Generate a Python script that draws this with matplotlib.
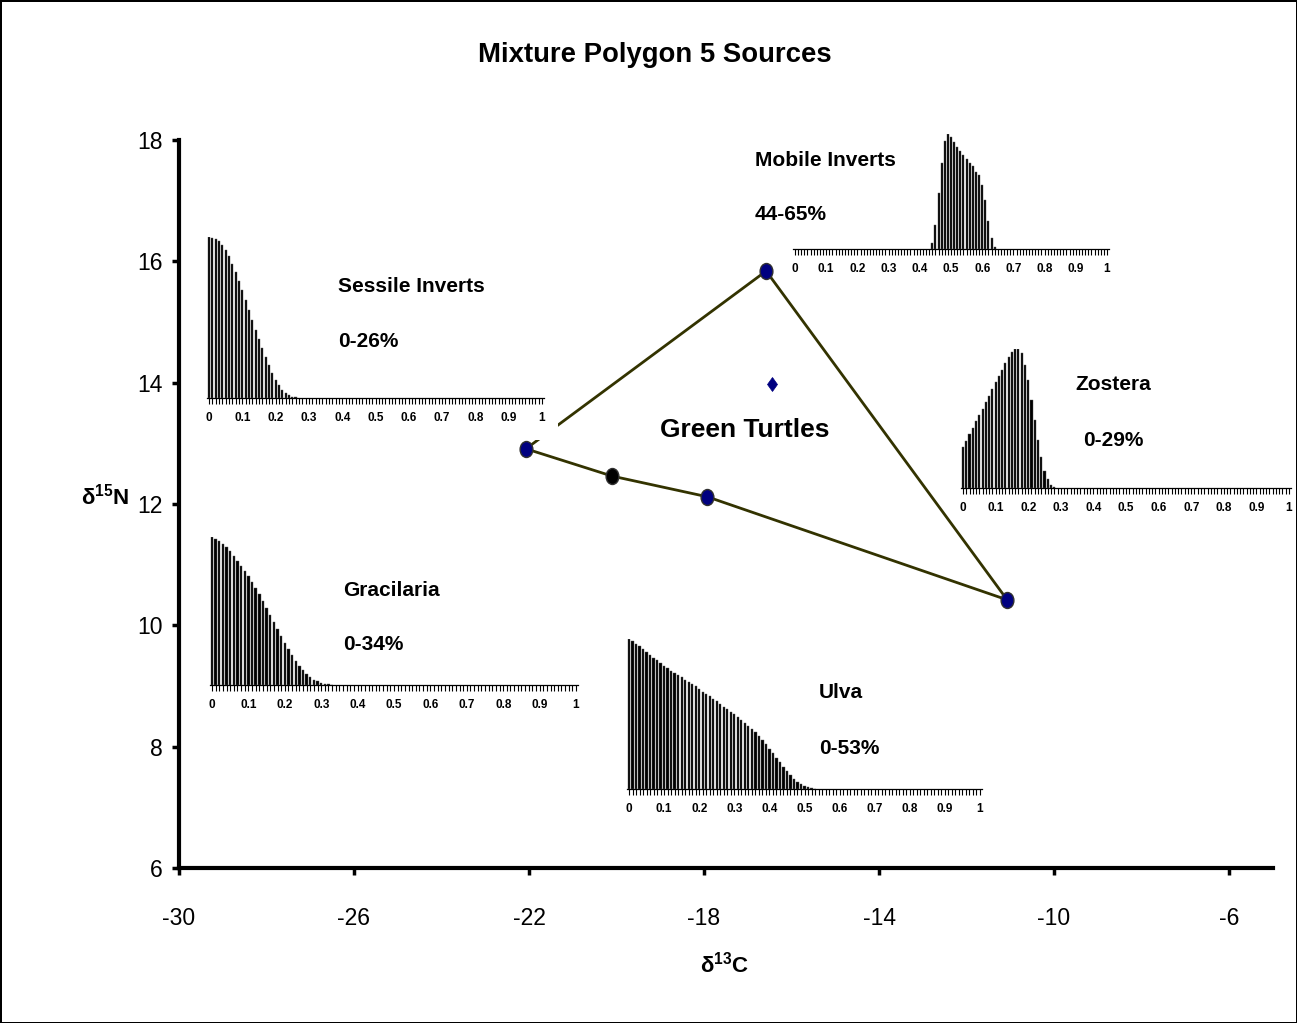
import matplotlib
matplotlib.use("Agg")
import matplotlib.pyplot as plt
from matplotlib import font_manager
from matplotlib.patches import Rectangle
from matplotlib.markers import MarkerStyle
from matplotlib.transforms import Affine2D
import numpy as np

# ---------------- data ----------------
title = "Mixture Polygon 5 Sources"
x_label = "δ$^{13}$C"
y_label = "δ$^{15}$N"
x_ticks = [-30, -26, -22, -18, -14, -10, -6]
y_ticks = [6, 8, 10, 12, 14, 16, 18]

source_names = ["Sessile Inverts", "Mobile Inverts", "Zostera", "Ulva", "Gracilaria"]
source_d13C = [-22.07, -16.58, -11.07, -17.93, -20.10]
source_d15N = [12.91, 15.84, 10.42, 12.12, 12.46]
source_ranges = ["0-26%", "44-65%", "0-29%", "0-53%", "0-34%"]
polygon_order = [0, 1, 2, 3, 4, 0]

consumer_name = "Green Turtles"
consumer_d13C = [-16.45]
consumer_d15N = [13.98]

hist_ticks = [0, 0.1, 0.2, 0.3, 0.4, 0.5, 0.6, 0.7, 0.8, 0.9, 1]
hist_tick_labels = ["0", "0.1", "0.2", "0.3", "0.4", "0.5", "0.6", "0.7", "0.8", "0.9", "1"]
bin_width = 0.01

sessile_start = 0
sessile_hist = [1.00, 0.995, 0.99, 0.975, 0.948, 0.917, 0.88, 0.834, 0.783, 0.725,
                0.669, 0.607, 0.545, 0.487, 0.424, 0.369, 0.311, 0.255, 0.203, 0.155,
                0.114, 0.079, 0.05, 0.029, 0.017, 0.008, 0.004]

mobile_start = 44
mobile_hist = [0.05, 0.21, 0.49, 0.75, 0.94, 1.0, 0.97, 0.93, 0.89, 0.85,
               0.82, 0.78, 0.75, 0.72, 0.67, 0.64, 0.56, 0.43, 0.24, 0.10, 0.015]

zostera_start = 0
zostera_hist = [0.294, 0.337, 0.386, 0.431, 0.48, 0.525, 0.571, 0.619, 0.663, 0.711,
                0.759, 0.805, 0.848, 0.896, 0.94, 0.976, 1.0, 1.0, 0.969, 0.884,
                0.776, 0.636, 0.487, 0.347, 0.222, 0.125, 0.063, 0.024, 0.005]

ulva_start = 0
ulva_hist = [1.00, 0.985, 0.97, 0.955, 0.935, 0.915, 0.895, 0.875, 0.86, 0.84,
             0.82, 0.805, 0.79, 0.775, 0.76, 0.745, 0.73, 0.715, 0.70, 0.685,
             0.665, 0.65, 0.635, 0.62, 0.60, 0.585, 0.57, 0.55, 0.535, 0.515,
             0.50, 0.48, 0.46, 0.44, 0.42, 0.40, 0.38, 0.355, 0.33, 0.30,
             0.27, 0.24, 0.21, 0.18, 0.15, 0.12, 0.095, 0.07, 0.05, 0.035,
             0.02, 0.012, 0.006, 0.003]

gracilaria_start = 0
gracilaria_hist = [1.0, 0.986, 0.971, 0.952, 0.932, 0.905, 0.872, 0.838, 0.802, 0.768,
                   0.734, 0.698, 0.658, 0.615, 0.568, 0.520, 0.473, 0.425, 0.378, 0.330,
                   0.285, 0.242, 0.201, 0.163, 0.129, 0.100, 0.072, 0.052, 0.036, 0.025,
                   0.016, 0.009, 0.005, 0.002]

# ---------------- layout (pixels) ----------------
W, H, DPI = 1297, 1023, 100

def fx(x):
    return x / W

def fy(y):
    return 1 - y / H

names = {f.name for f in font_manager.fontManager.ttflist}
if "Liberation Sans Narrow" in names:
    narrow = ["Liberation Sans Narrow", "DejaVu Sans"]
    title_size, lab_size = 24, 18
else:
    narrow = ["Liberation Sans", "DejaVu Sans"]
    title_size, lab_size = 19.8, 16
regular = ["Liberation Sans", "DejaVu Sans"]

plt.rcParams["mathtext.default"] = "regular"
plt.rcParams["font.family"] = regular

fig = plt.figure(figsize=(W / DPI, H / DPI), dpi=DPI)
fig.patch.set_facecolor("white")
fig.patch.set_edgecolor("black")
fig.patch.set_linewidth(1.0)

# main axes: x -30..-5 from px 179..1272.75; y 6..18 from px 868..140
ax = fig.add_axes([fx(179), fy(868), 1093.75 / W, 728 / H])
ax.set_zorder(0)
ax.set_xlim(-30, -5)
ax.set_ylim(6, 18)
ax.set_xticks(x_ticks)
ax.set_yticks(y_ticks)
ax.set_xticklabels([str(v) for v in x_ticks])
ax.set_yticklabels([str(v) for v in y_ticks])
for s in ["top", "right"]:
    ax.spines[s].set_visible(False)
for s in ["left", "bottom"]:
    ax.spines[s].set_linewidth(3.0)
    ax.spines[s].set_capstyle("projecting")
ax.tick_params(axis="both", direction="out", length=5, width=2.5, labelsize=16.5)
ax.tick_params(axis="y", pad=7)
ax.tick_params(axis="x", pad=23)
for lab in ax.get_xticklabels() + ax.get_yticklabels():
    lab.set_family(regular)

px = [source_d13C[i] for i in polygon_order]
py = [source_d15N[i] for i in polygon_order]
ax.plot(px, py, color="#333300", lw=2.0, zorder=2)
src_colors = ["#000080", "#000080", "#000080", "#000080", "#000000"]
ell = MarkerStyle("o", transform=Affine2D().scale(0.8, 1.0))
for xx, yy, c in zip(source_d13C, source_d15N, src_colors):
    ax.plot([xx], [yy], marker=ell, ms=11.5, mfc=c, mec="#303030", mew=1.0,
            ls="none", zorder=3)
dia = MarkerStyle("D", transform=Affine2D().scale(0.75, 1.0))
ax.plot(consumer_d13C, consumer_d15N, marker=dia, ms=7, mfc="#000080",
        mec="#000080", mew=0.5, ls="none", zorder=3)

fig.text(fx(660), fy(430), consumer_name, fontsize=19, fontweight="bold",
         ha="left", va="center", family=regular)

# title and axis labels
fig.text(fx(655), fy(55), title, fontsize=title_size, fontweight="bold",
         ha="center", va="center", family=narrow)
fig.text(fx(105), fy(497), y_label, fontsize=lab_size, fontweight="bold",
         ha="center", va="center", family=narrow)
fig.text(fx(725), fy(965), x_label, fontsize=lab_size, fontweight="bold",
         ha="center", va="center", family=narrow)

# ---------------- inset histograms ----------------
insets = [
    # x0, x1, baseline, top, start, values, source idx, name x, name y, range x, range y, chart area
    (209, 542, 398, 237, sessile_start, sessile_hist, 0, 338, 287, 338, 342, (200, 228, 558, 440)),
    (795, 1107, 249, 134, mobile_start, mobile_hist, 1, 755, 160, 755, 215, (785, 126, 1115, 278)),
    (963, 1289, 488, 349, zostera_start, zostera_hist, 2, 1075, 384, 1083, 440, (955, 340, 1296, 515)),
    (629, 980, 789, 639, ulva_start, ulva_hist, 3, 819, 693, 819, 748, (620, 630, 990, 822)),
    (212, 576, 685, 537, gracilaria_start, gracilaria_hist, 4, 343, 590, 343, 645, (204, 528, 585, 716)),
]

m = 0.006
for (x0, x1, base, top, start, vals, idx, tx, ty, rx, ry, area) in insets:
    ax0, ay0, ax1, ay1 = area
    fig.add_artist(Rectangle((fx(ax0), fy(ay1)), (ax1 - ax0) / W, (ay1 - ay0) / H,
                             transform=fig.transFigure, facecolor="white",
                             edgecolor="none", zorder=0.5))
    span = x1 - x0
    left = x0 - m * span
    right = x1 + m * span
    vmax = max(vals)
    ia = fig.add_axes([fx(left), fy(base), (right - left) / W, (base - top) / H])
    ia.set_zorder(1)
    ia.set_xlim(-m, 1 + m)
    ia.set_ylim(0, vmax)
    xs = [(start + k) * bin_width for k in range(len(vals))]
    ia.bar(xs, vals, width=0.0065, color="black", edgecolor="#555555",
           linewidth=0.3, align="center")
    for s in ["top", "right", "left"]:
        ia.spines[s].set_visible(False)
    ia.spines["bottom"].set_linewidth(0.9)
    ia.set_yticks([])
    ia.set_xticks(hist_ticks)
    ia.set_xticklabels(hist_tick_labels)
    ia.set_xticks(np.round(np.arange(0, 1.0001, bin_width), 2), minor=True)
    ia.tick_params(axis="x", which="both", direction="out", length=4, width=0.8,
                   labelsize=8.5, pad=6)
    for lab in ia.get_xticklabels():
        lab.set_fontweight("bold")
        lab.set_family(regular)
    ia.patch.set_facecolor("white")
    fig.text(fx(tx), fy(ty), source_names[idx], fontsize=15, fontweight="bold",
             ha="left", va="center", family=regular, zorder=2)
    fig.text(fx(rx), fy(ry), source_ranges[idx], fontsize=15, fontweight="bold",
             ha="left", va="center", family=regular, zorder=2)

fig.savefig("out.png", dpi=DPI, facecolor="white", edgecolor="black")
